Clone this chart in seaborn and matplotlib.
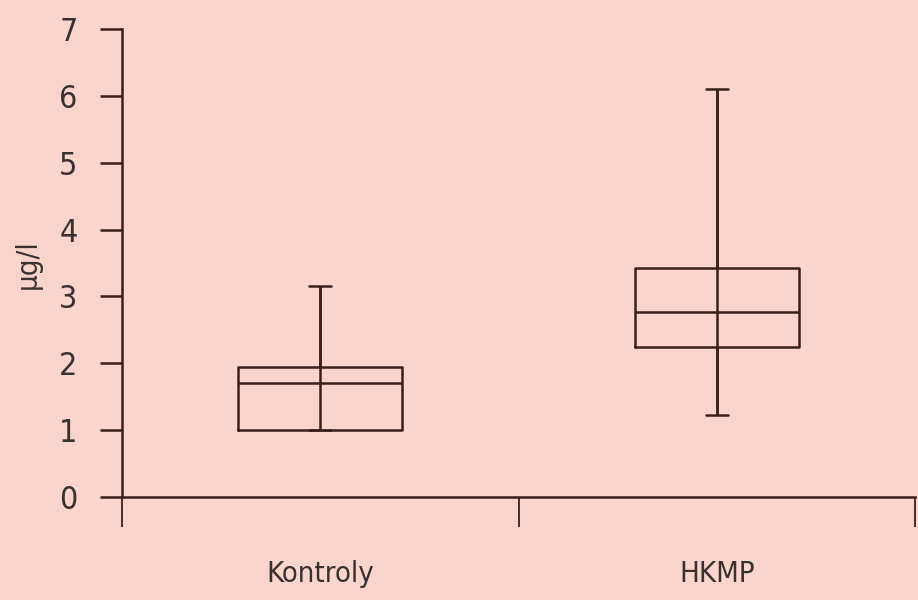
import numpy as np
import pandas as pd
import matplotlib
matplotlib.use('Agg')
import matplotlib.pyplot as plt
import seaborn as sns

# Hodnoty (µg/l)
skupiny = ['Kontroly', 'HKMP']
minimum = [1.0, 1.23]
dolni_kvartil = [1.0, 2.24]
median = [1.71, 2.76]
horni_kvartil = [1.95, 3.43]
maximum = [3.15, 6.11]
y_ticks = [0, 1, 2, 3, 4, 5, 6, 7]

# Pět hodnot na skupinu -> percentily 0/25/50/75/100 dají přesně souhrn
radky = []
for i, s in enumerate(skupiny):
    for v in (minimum[i], dolni_kvartil[i], median[i], horni_kvartil[i], maximum[i]):
        radky.append({'skupina': s, 'hodnota': v})
df = pd.DataFrame(radky)

bg = '#f9d5cc'
cara = '#3b1f1a'
text = '#3a302e'

sns.set_style('ticks')
plt.rcParams['font.family'] = ['Liberation Sans Narrow', 'DejaVu Sans']
plt.rcParams['font.stretch'] = 'condensed'

fig = plt.figure(figsize=(9.18, 6), dpi=100, facecolor=bg)
ax = fig.add_axes([122 / 918, 103 / 600, 793 / 918, 468 / 600])
ax.set_facecolor(bg)

sns.boxplot(data=df, x='skupina', y='hodnota', order=skupiny, fill=False,
            color=cara, linecolor=cara, linewidth=1.8, width=0.414,
            whis=(0, 100), showfliers=False, capwidths=0.055, ax=ax)

# svislá čára vede i přes krabici
ax.vlines(range(len(skupiny)), minimum, maximum, color=cara, lw=1.8, zorder=3)

ax.set_xlim(-0.5, 1.5)
ax.set_ylim(0, 7)
ax.set_xticks([-0.5, 0.5, 1.5])
ax.set_xticklabels([])
ax.set_xticks([0, 1], minor=True)
ax.set_xticklabels(skupiny, minor=True)
ax.set_yticks(y_ticks)
ax.set_yticklabels([str(t) for t in y_ticks])

ax.tick_params(axis='x', which='major', length=21.6, width=1.3, color=cara)
ax.tick_params(axis='x', which='minor', length=0, pad=45, labelsize=21, labelcolor=text)
ax.tick_params(axis='y', length=16, width=1.8, color=cara, pad=16, labelsize=23, labelcolor=text)

ax.set_xlabel('')
ax.set_ylabel('µg/l', fontsize=21, color=text)
ax.yaxis.set_label_coords(-0.101, 0.498)

sns.despine(ax=ax)
for side in ('left', 'bottom'):
    ax.spines[side].set_color(cara)
    ax.spines[side].set_linewidth(1.8)

fig.savefig('out.png', dpi=100, facecolor=bg)
